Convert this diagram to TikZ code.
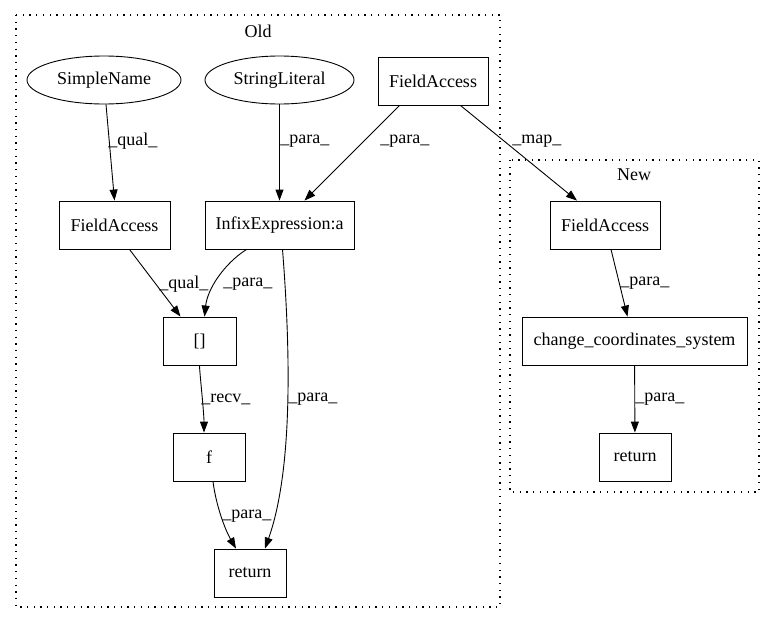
\documentclass[tikz,border=0pt]{standalone}
\usepackage{fontspec}
\setmainfont{Liberation Serif}
\usetikzlibrary{arrows.meta,shapes.geometric}
\begin{document}
\begin{tikzpicture}[x=1pt,y=-1pt,
  every node/.style={font=\fontsize{18}{20}\selectfont, inner sep=0pt},
  box/.style={draw, line width=0.9pt, rectangle, minimum height=48pt},
  oval/.style={draw, line width=0.9pt, ellipse, minimum height=48pt},
  edge/.style={draw, line width=0.9pt, -{Triangle[length=11pt,width=8pt]}},
  lab/.style={anchor=west},
  cluster/.style={draw, line width=1.2pt, dash pattern=on 1.3pt off 5.4pt}
]
\useasboundingbox (0,0) rectangle (775,624);
% clusters
\draw[cluster] (16,15) rectangle (500,607);
\node (oldlab) at (258,31) {Old};
\draw[cluster] (510,160) rectangle (759,492);
\node (newlab) at (634,175) {New};
% nodes
\node[oval, minimum width=154pt] (sn) at (104,80) {SimpleName};
\node[oval, minimum width=149pt] (sl) at (279.5,80) {StringLiteral};
\node[box, minimum width=110pt] (fa0) at (433,81) {FieldAccess};
\node[box, minimum width=111pt] (fa1) at (114.5,225) {FieldAccess};
\node[box, minimum width=149pt] (inf) at (279.5,225) {InfixExpression:a};
\node[box, minimum width=73pt] (br) at (199.5,341) {[]};
\node[box, minimum width=72pt] (f) at (209,457) {f};
\node[box, minimum width=72pt] (ret) at (250,573) {return};
\node[box, minimum width=110pt] (fan) at (605,225) {FieldAccess};
\node[box, minimum width=225pt] (ccs) at (634.5,341) {change\_coordinates\_system};
\node[box, minimum width=72pt] (retn) at (635,457) {return};
% edges
\draw[edge] (sn.south) ++(2,0) coordinate (a1) (a1) -- (fa1.north) node[lab, at={(108,141)}] {\_qual\_};
\draw[edge] (sl) -- (inf) node[lab, at={(280,141)}] {\_para\_};
\draw[edge] (fa0.south west) ++(22,0) coordinate (a2) (a2) -- ([xshift=25pt]inf.north) node[lab, at={(380,141)}] {\_para\_};
\draw[edge] (fa0.south east) ++(-28,0) coordinate (a3) (a3) -- ([xshift=-28pt]fan.north) node[lab, at={(512,141)}] {\_map\_};
\draw[edge] ([xshift=15pt]fa1.south) -- ([xshift=-19pt]br.north) node[lab, at={(159,284)}] {\_qual\_};
\draw[edge] ([xshift=-33pt]inf.south) .. controls +(-22,14) and +(3,-28) .. ([xshift=5pt]br.north) node[lab, at={(223,284)}] {\_para\_};
\draw[edge] ([xshift=3pt]inf.south) .. controls +(8,101) and +(28,-79) .. ([xshift=15pt]ret.north) node[lab, at={(288,399)}] {\_para\_};
\draw[edge] (br) .. controls +(0,30) and +(0,-20) .. ([xshift=-5pt]f.north) node[lab, at={(201,399)}] {\_recv\_};
\draw[edge] ([xshift=4pt]f.south) .. controls +(3,24) and +(-11,-19) .. ([xshift=-14pt]ret.north) node[lab, at={(222,516)}] {\_para\_};
\draw[edge] ([xshift=6pt]fan.south) -- ([xshift=-7pt]ccs.north) node[lab, at={(620,283)}] {\_para\_};
\draw[edge] (ccs) -- (retn) node[lab, at={(635,399)}] {\_para\_};
\end{tikzpicture}
\end{document}
